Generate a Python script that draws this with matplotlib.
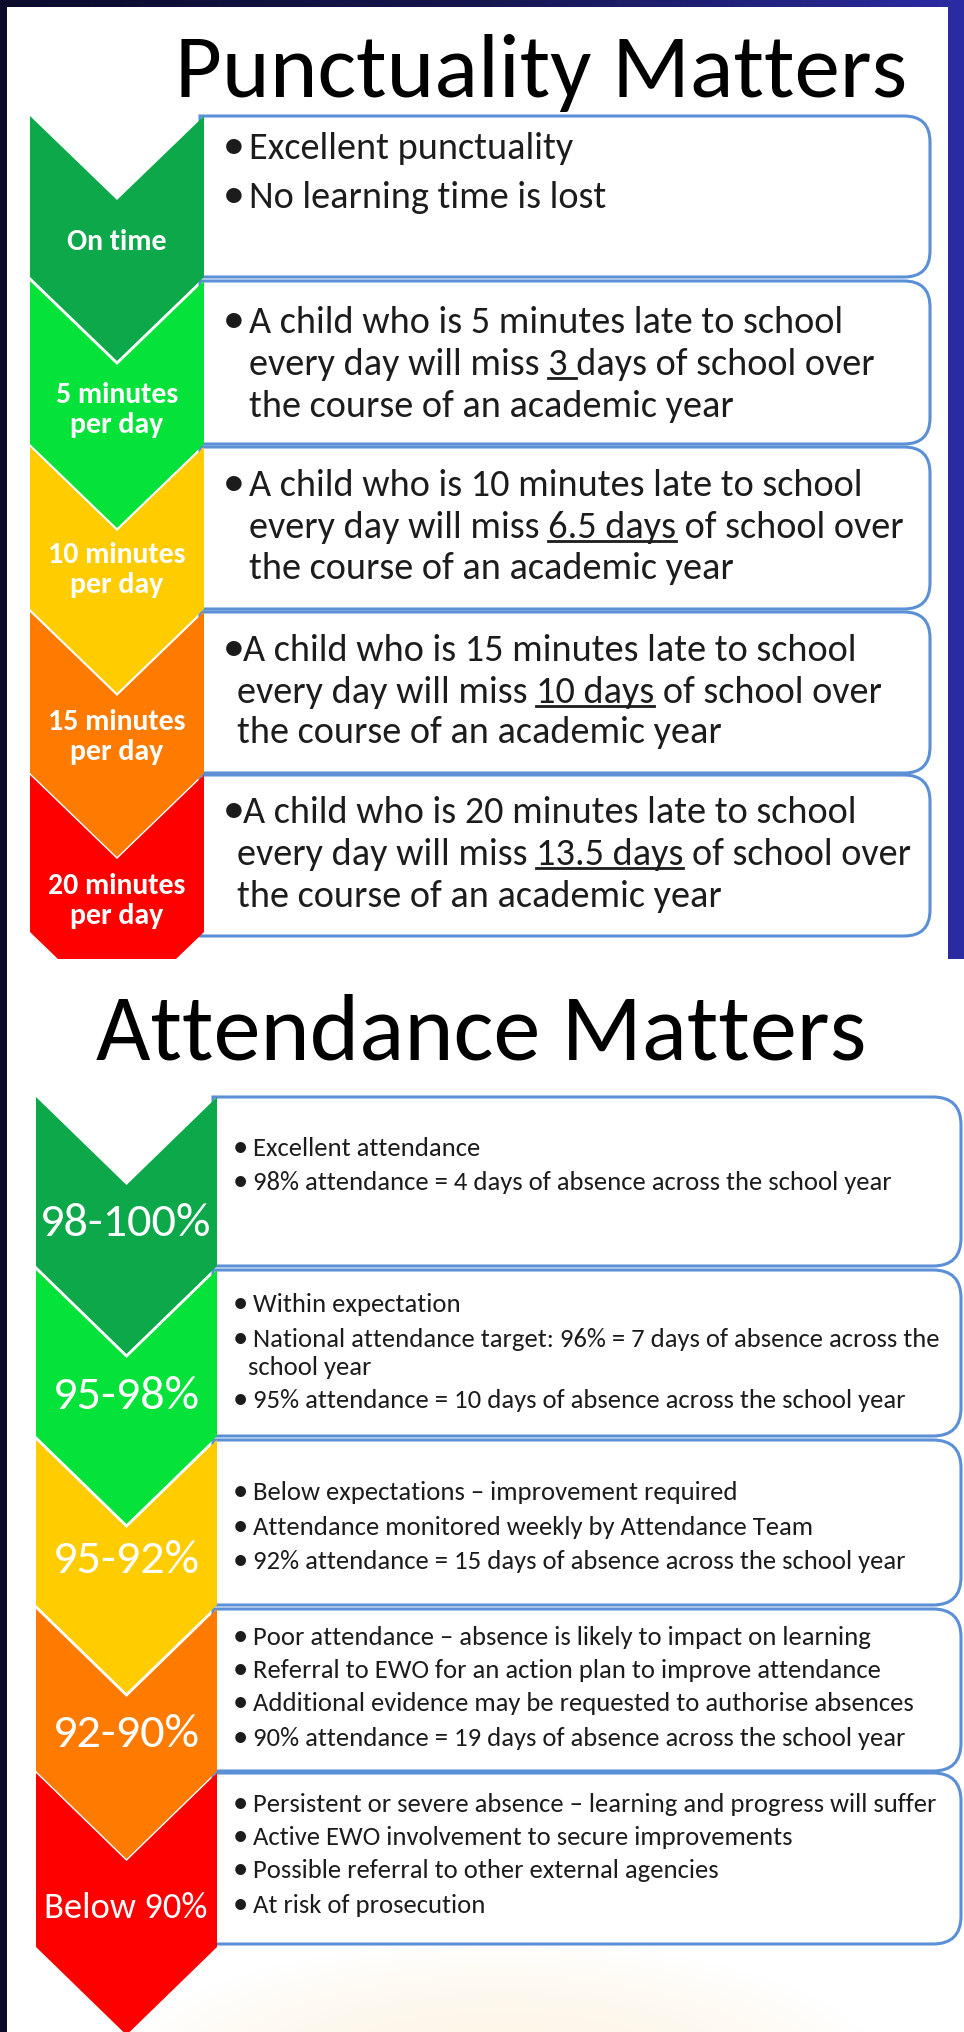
import matplotlib
matplotlib.use("Agg")
import matplotlib.pyplot as plt
import numpy as np
from matplotlib.patches import Rectangle, Polygon, PathPatch
from matplotlib.path import Path
from matplotlib.colors import LinearSegmentedColormap

FONT = ['Carlito', 'Lato', 'DejaVu Sans']
plt.rcParams['font.family'] = FONT

# ---- data -------------------------------------------------------------
punct_title = "Punctuality Matters"
punct_labels = ["On time", "5 minutes\nper day", "10 minutes\nper day",
                "15 minutes\nper day", "20 minutes\nper day"]
late_minutes = [5, 10, 15, 20]
days_underlined = ["3 ", "6.5 days", "10 days", "13.5 days"]
days_after = ["days of school over", " of school over", " of school over", " of school over"]
ontime_points = ["Excellent punctuality", "No learning time is lost"]
year_line = "the course of an academic year"

attend_title = "Attendance Matters"
attend_labels = ["98-100%", "95-98%", "95-92%", "92-90%", "Below 90%"]
attend_points = [
    ["Excellent attendance",
     "98% attendance = 4 days of absence across the school year"],
    ["Within expectation",
     "National attendance target: 96% = 7 days of absence across the\nschool year",
     "95% attendance = 10 days of absence across the school year"],
    ["Below expectations \u2013 improvement required",
     "Attendance monitored weekly by Attendance Team",
     "92% attendance = 15 days of absence across the school year"],
    ["Poor attendance \u2013 absence is likely to impact on learning",
     "Referral to EWO for an action plan to improve attendance",
     "Additional evidence may be requested to authorise absences",
     "90% attendance = 19 days of absence across the school year"],
    ["Persistent or severe absence \u2013 learning and progress will suffer",
     "Active EWO involvement to secure improvements",
     "Possible referral to other external agencies",
     "At risk of prosecution"],
]
band_colors = ["#0ca84a", "#05e23a", "#ffcc00", "#ff7b00", "#fe0000"]

# ---- layout (pixels) ---------------------------------------------------
W, H = 964, 2033
fig = plt.figure(figsize=(W / 100, H / 100), dpi=100)
ax = fig.add_axes([0, 0, 1, 1])
ax.set_xlim(0, W)
ax.set_ylim(H, 0)
ax.axis('off')
renderer = fig.canvas.get_renderer()

bg = LinearSegmentedColormap.from_list("bg", ["#0b0b2c", "#16164f", "#2b2ba3"])
ax.imshow(np.linspace(0, 1, 256)[None, :], extent=[0, W, H, 0], aspect='auto',
          cmap=bg, zorder=0)
ax.add_patch(Rectangle((7, 8), 941, 960, fc='white', ec='none', zorder=1))

# faint warm glow at the bottom
gx, gy = np.meshgrid(np.linspace(100, 900, 200), np.linspace(1930, H, 40))
a = np.clip(1 - ((gx - 500) / 400) ** 2 - ((gy - 2090) / 150) ** 2, 0, 1) * 0.6
glow = np.zeros(gx.shape + (4,))
glow[..., :3] = np.array([252, 238, 212]) / 255
glow[..., 3] = a


def text_w(s, **kw):
    t1 = ax.text(0, 0, s + "|", **kw)
    t2 = ax.text(0, 0, "|", **kw)
    w = t1.get_window_extent(renderer).width - t2.get_window_extent(renderer).width
    t1.remove()
    t2.remove()
    return w


def fit(s, target, **kw):
    return 20 * target / text_w(s, fontsize=20, **kw)


def box(left, top, bottom, right, r, z=3):
    verts = [(left, top), (right - r, top), (right, top), (right, top + r),
             (right, bottom - r), (right, bottom), (right - r, bottom),
             (left, bottom), (left, top)]
    codes = [Path.MOVETO, Path.LINETO, Path.CURVE3, Path.CURVE3,
             Path.LINETO, Path.CURVE3, Path.CURVE3, Path.LINETO, Path.CLOSEPOLY]
    ax.add_patch(PathPatch(Path(verts, codes), fc='white', ec='#5b8fd6', lw=2.2, zorder=z))


def chevron(x0, x1, top, bottom, depth, color, z):
    c = (x0 + x1) / 2
    ax.add_patch(Polygon([(x0, top), (c, top + depth), (x1, top), (x1, bottom),
                          (c, bottom + depth), (x0, bottom)], closed=True,
                         fc=color, ec='none', zorder=z))


def bullet(x, y, fs, z):
    ax.text(x, y, "\u2022", fontsize=fs * 1.15, color=tcol, ha='center', va='baseline', zorder=z)


tcol = '#1c1c1c'

# ---- Punctuality panel --------------------------------------------------
p_tops = [117, 282, 448, 613, 776]
p_bots = [278, 445, 610, 774, 937]
p_base = [[159, 208], [333, 375, 417], [496, 538, 579], [661, 703, 743], [823, 865, 907]]
p_lab_y = [242, 410, 570, 737, 901]

for i in range(4, -1, -1):
    box(200, p_tops[i], p_bots[i], 930, 26)
for i in range(4, -1, -1):
    chevron(30, 204, p_tops[i] if i else 117, p_bots[i] - (4 if i == 4 else 0), 84,
            band_colors[i], 5 + (5 - i))

fs_t = fit(punct_title, 732)
ax.text(541, 97, punct_title, fontsize=fs_t, ha='center', va='baseline', color='black', zorder=12)

fs_lab = fit("5 minutes", 123, weight='bold')
for i, lab in enumerate(punct_labels):
    ax.text(117, p_lab_y[i], lab, fontsize=fs_lab, weight='bold', color='white',
            ha='center', va='center', linespacing=1.15, zorder=12)

fs_p = fit("A child who is 5 minutes late to school", 594)
for j, s in enumerate(ontime_points):
    bullet(234, p_base[0][j], fs_p, 12)
    ax.text(249, p_base[0][j], s, fontsize=fs_p, color=tcol, va='baseline', zorder=12)
for k, m in enumerate(late_minutes):
    i = k + 1
    xb, xt, xc = (234, 249, 249) if i < 3 else (234, 243, 237)
    b = p_base[i]
    bullet(xb, b[0], fs_p, 12)
    ax.text(xt, b[0], f"A child who is {m} minutes late to school", fontsize=fs_p,
            color=tcol, va='baseline', zorder=12)
    pre = "every day will miss "
    line2 = pre + days_underlined[k] + days_after[k]
    ax.text(xc, b[1], line2, fontsize=fs_p, color=tcol, va='baseline', zorder=12)
    u0 = xc + text_w(pre, fontsize=fs_p)
    u1 = xc + text_w(pre + days_underlined[k], fontsize=fs_p)
    ax.plot([u0, u1], [b[1] + 4, b[1] + 4], color=tcol, lw=2, zorder=12)
    ax.text(xc, b[2], year_line, fontsize=fs_p, color=tcol, va='baseline', zorder=12)

# ---- Attendance panel ---------------------------------------------------
ax.add_patch(Rectangle((7, 960), W - 7, H - 960, fc='white', ec='none', zorder=20))
ax.imshow(glow, extent=[100, 900, H, 1930], aspect='auto', zorder=21)

a_tops = [1098, 1271, 1441, 1610, 1774]
a_bots = [1267, 1437, 1606, 1772, 1945]
a_base = [[1156, 1190], [1312, 1347, 1408], [1500, 1535, 1569],
          [1645, 1678, 1711, 1746], [1812, 1845, 1878, 1913]]
a_lab_y = [1224, 1397, 1561, 1735, 1908]

for i in range(4, -1, -1):
    box(213, a_tops[i], a_bots[i], 961, 28, z=22)
for i in range(4, -1, -1):
    chevron(36, 217, a_tops[i] if i else 1098, a_bots[i] + (3 if i == 4 else 0), 88,
            band_colors[i], 25 + (5 - i))

fs_t2 = fit(attend_title, 769)
ax.text(481, 1060, attend_title, fontsize=fs_t2, ha='center', va='baseline', color='black', zorder=32)

fs_pct = fit("98-100%", 172)
fs_below = fit("Below 90%", 163)
for i, lab in enumerate(attend_labels):
    ax.text(126, a_lab_y[i], lab, fontsize=fs_below if i == 4 else fs_pct, color='white',
            ha='center', va='center', zorder=32)

fs_a = fit(attend_points[0][1], 636)
for i, pts in enumerate(attend_points):
    j = 0
    for s in pts:
        parts = s.split("\n")
        y = a_base[i][j]
        bullet(240, y, fs_a, 32)
        ax.text(253, y, parts[0], fontsize=fs_a, color=tcol, va='baseline', zorder=32)
        if len(parts) > 1:
            ax.text(248, 1375, parts[1], fontsize=fs_a, color=tcol, va='baseline', zorder=32)
        j += 1

fig.savefig("out.png", dpi=100)
